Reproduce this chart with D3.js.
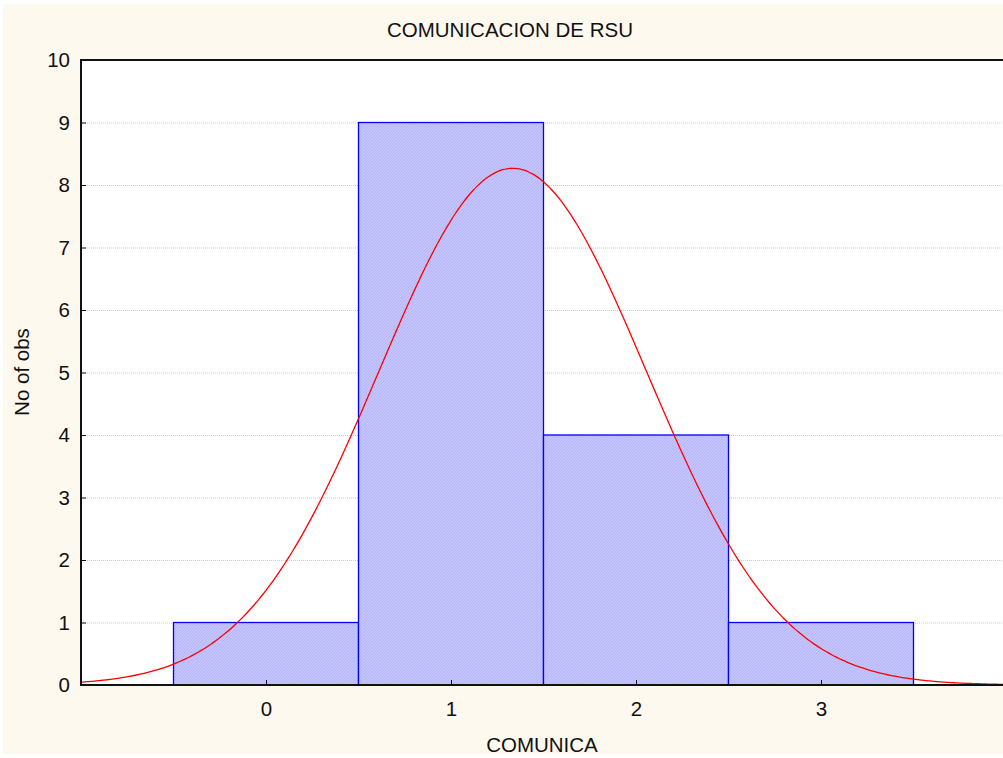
<!DOCTYPE html>
<html><head><meta charset="utf-8">
<script src="https://cdn.jsdelivr.net/npm/d3@7"></script>
<style>body{margin:0;background:#fff}svg{display:block}text{font-family:"Liberation Sans",Arial,sans-serif;fill:#111}</style>
</head><body><svg id="c" width="1003" height="758"></svg>
<script>
const binCenters = [0, 1, 2, 3];
const binCounts = [1, 9, 4, 1];
const binWidth = 1;
const yTicks = [0,1,2,3,4,5,6,7,8,9,10];
const xTicks = [0,1,2,3];
const title = "COMUNICACION DE RSU";
const xLabel = "COMUNICA";
const yLabel = "No of obs";

const svg = d3.select("#c");
const W = 1003, H = 758;
const FS = 20.5;
const m = {l:81, t:60, r:1006, b:685};
svg.append("rect").attr("x",0).attr("y",0).attr("width",W).attr("height",H).attr("fill","#fff");
svg.append("rect").attr("x",3).attr("y",4).attr("width",W-3).attr("height",H-8).attr("fill","#fdf9ef");

const x = d3.scaleLinear().domain([-1,4]).range([m.l,m.r]);
const y = d3.scaleLinear().domain([0,10]).range([m.b,m.t]);

const defs = svg.append("defs");
const pat = defs.append("pattern").attr("id","hatch").attr("patternUnits","userSpaceOnUse").attr("width",3).attr("height",3);
pat.append("rect").attr("width",3).attr("height",3).attr("fill","#c4c4ff");
pat.append("path").attr("d","M0,3 L3,0 M-1,1 L1,-1 M2,4 L4,2").attr("stroke","#b0b0f4").attr("stroke-width",0.8);
defs.append("clipPath").attr("id","clip").append("rect").attr("x",m.l).attr("y",m.t).attr("width",m.r-m.l).attr("height",m.b-m.t);

svg.append("rect").attr("x",m.l).attr("y",m.t).attr("width",m.r-m.l).attr("height",m.b-m.t).attr("fill","#fff");

// grid
svg.append("g").selectAll("line").data(yTicks.filter(v=>v>0&&v<10)).join("line")
  .attr("x1",m.l).attr("x2",m.r).attr("y1",d=>y(d)+0.5).attr("y2",d=>y(d)+0.5)
  .attr("stroke","#c8c8c8").attr("stroke-width",1).attr("stroke-dasharray","1,1");

// bars
svg.append("g").selectAll("rect").data(binCenters.map((c,i)=>({c,n:binCounts[i]}))).join("rect")
  .attr("x",d=>x(d.c-binWidth/2)).attr("width",d=>x(d.c+binWidth/2)-x(d.c-binWidth/2))
  .attr("y",d=>y(d.n)).attr("height",d=>y(0)-y(d.n))
  .attr("fill","url(#hatch)").attr("stroke","#0000ff").attr("stroke-width",1.3);

// normal fit derived from the histogram counts
const N = d3.sum(binCounts);
const mean = d3.sum(binCenters.map((c,i)=>c*binCounts[i]))/N;
const sd = Math.sqrt(d3.sum(binCenters.map((c,i)=>binCounts[i]*(c-mean)**2))/(N-1));
const curveX = d3.range(-1, 4.0001, 0.02);
const line = d3.line().x(d=>x(d)).y(d=>y(N*binWidth/(sd*Math.sqrt(2*Math.PI))*Math.exp(-0.5*((d-mean)/sd)**2))).curve(d3.curveBasis);
svg.append("path").datum(curveX).attr("d",line).attr("fill","none").attr("stroke","#ff0000").attr("stroke-width",1.3).attr("clip-path","url(#clip)");

// axes frame
svg.append("path").attr("d",`M${m.l},${m.t}H${m.r}`).attr("stroke","#111").attr("stroke-width",2);
svg.append("path").attr("d",`M${m.l},${m.t-1}V${m.b+1}`).attr("stroke","#111").attr("stroke-width",2);
svg.append("path").attr("d",`M${m.l},${m.b}H${m.r}`).attr("stroke","#111").attr("stroke-width",2);

// y ticks
const yAxis = d3.axisLeft(y).tickValues(yTicks).tickSize(-5).tickPadding(11).tickFormat(d3.format("d"));
const gy = svg.append("g").attr("transform",`translate(${m.l},0)`).call(yAxis);
gy.select(".domain").remove();
gy.selectAll("line").attr("stroke","#111");
gy.selectAll("text").attr("font-size",FS).attr("font-family","Liberation Sans, Arial, sans-serif").attr("fill","#111");

const xAxis = d3.axisBottom(x).tickValues(xTicks).tickSize(-5).tickPadding(16).tickFormat(d3.format("d"));
const gx = svg.append("g").attr("transform",`translate(0,${m.b})`).call(xAxis);
gx.select(".domain").remove();
gx.selectAll("line").attr("stroke","#111");
gx.selectAll("text").attr("font-size",FS).attr("font-family","Liberation Sans, Arial, sans-serif").attr("fill","#111");

svg.append("text").attr("x",510).attr("y",37).attr("text-anchor","middle").attr("font-size",FS).text(title);
svg.append("text").attr("x",542).attr("y",752).attr("text-anchor","middle").attr("font-size",FS).text(xLabel);
svg.append("text").attr("transform","translate(29,372) rotate(-90)").attr("text-anchor","middle").attr("font-size",FS).text(yLabel);
</script></body></html>
